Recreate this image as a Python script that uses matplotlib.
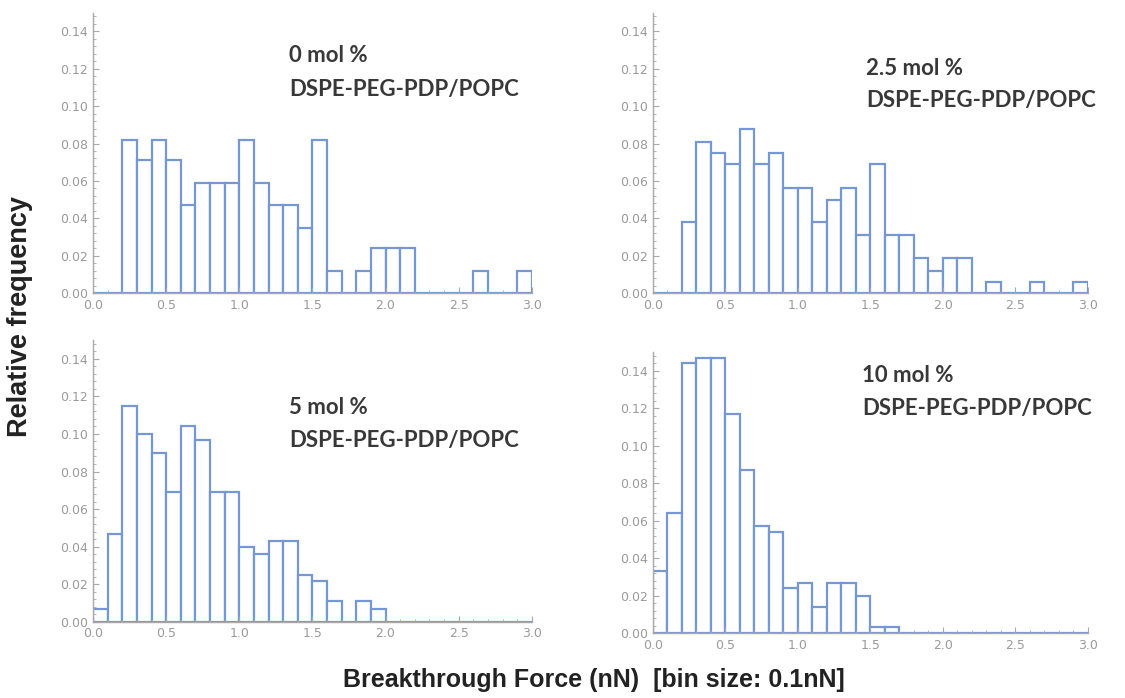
import numpy as np
import matplotlib
matplotlib.use('Agg')
import matplotlib.pyplot as plt
from matplotlib.ticker import MultipleLocator, FormatStrFormatter

# bin edges (0.1 nN bins)
edges = np.round(np.arange(0.0, 3.0, 0.1), 1)

freq_0 = [0, 0, 0.082, 0.071, 0.082, 0.071, 0.047, 0.059, 0.059, 0.059,
          0.082, 0.059, 0.047, 0.047, 0.035, 0.082, 0.012, 0, 0.012, 0.024,
          0.024, 0.024, 0, 0, 0, 0, 0.012, 0, 0, 0.012]
freq_25 = [0, 0, 0.038, 0.081, 0.075, 0.069, 0.088, 0.069, 0.075, 0.056,
           0.056, 0.038, 0.050, 0.056, 0.031, 0.069, 0.031, 0.031, 0.019, 0.012,
           0.019, 0.019, 0, 0.006, 0, 0, 0.006, 0, 0, 0.006]
freq_5 = [0.007, 0.047, 0.115, 0.100, 0.090, 0.069, 0.104, 0.097, 0.069, 0.069,
          0.040, 0.036, 0.043, 0.043, 0.025, 0.022, 0.011, 0, 0.011, 0.007,
          0, 0, 0, 0, 0, 0, 0, 0, 0, 0]
freq_10 = [0.033, 0.064, 0.144, 0.147, 0.147, 0.117, 0.087, 0.057, 0.054, 0.024,
           0.027, 0.014, 0.027, 0.027, 0.020, 0.003, 0.003, 0, 0, 0,
           0, 0, 0, 0, 0, 0, 0, 0, 0, 0]

labels = ['0 mol %', '2.5 mol %', '5 mol %', '10 mol %']
sub = 'DSPE-PEG-PDP/POPC'

fig = plt.figure(figsize=(11.25, 6.98), dpi=100)

# [left, bottom, width, height], text x, text y1, text y2
panels = [
    ([0.0827, 0.580, 0.390, 0.402], freq_0, labels[0], 0.447, 0.848, 0.725),
    ([0.5804, 0.580, 0.3867, 0.402], freq_25, labels[1], 0.490, 0.800, 0.688),
    ([0.0827, 0.109, 0.390, 0.404], freq_5, labels[2], 0.447, 0.759, 0.645),
    ([0.5804, 0.093, 0.3867, 0.4026], freq_10, labels[3], 0.481, 0.918, 0.800),
]

axcol = '#a8a8a8'
barcol = '#7598d4'

for pos, f, lab, tx, ty1, ty2 in panels:
    ax = fig.add_axes(pos)
    ax.bar(edges, f, width=0.1, align='edge', facecolor='white',
           edgecolor=barcol, linewidth=1.6)
    ax.set_xlim(0, 3.0)
    ax.set_ylim(0, 0.15)
    for s in ['top', 'right']:
        ax.spines[s].set_visible(False)
    for s in ['left', 'bottom']:
        ax.spines[s].set_color(axcol)
        ax.spines[s].set_linewidth(1.0)
    ax.xaxis.set_major_locator(MultipleLocator(0.5))
    ax.xaxis.set_minor_locator(MultipleLocator(0.1))
    ax.yaxis.set_major_locator(MultipleLocator(0.02))
    ax.yaxis.set_minor_locator(MultipleLocator(0.004))
    ax.xaxis.set_major_formatter(FormatStrFormatter('%.1f'))
    ax.yaxis.set_major_formatter(FormatStrFormatter('%.2f'))
    ax.tick_params(which='both', direction='in', color=axcol, labelcolor='#9a9a9a',
                   labelsize=9)
    ax.tick_params(which='major', length=4, width=0.8)
    ax.tick_params(which='minor', length=2, width=0.6)
    ax.tick_params(axis='x', pad=4)
    ax.patch.set_alpha(0)
    ax.text(tx, ty1, lab, transform=ax.transAxes, ha='left', va='center',
            fontsize=16, fontfamily='Lato', fontweight='bold', color='#383838')
    ax.text(tx, ty2, sub, transform=ax.transAxes, ha='left', va='center',
            fontsize=16, fontfamily='Lato', fontweight='bold', color='#383838')

fig.text(0.018, 0.546, 'Relative frequency', rotation=90, ha='center', va='center',
         fontsize=19.5, fontweight='bold', fontfamily='Liberation Sans', color='#222222')
fig.text(0.528, 0.026, 'Breakthrough Force (nN)  [bin size: 0.1nN]', ha='center',
         va='center', fontsize=18, fontweight='bold', fontfamily='Liberation Sans',
         color='#222222')

fig.savefig('out.png', dpi=100)
